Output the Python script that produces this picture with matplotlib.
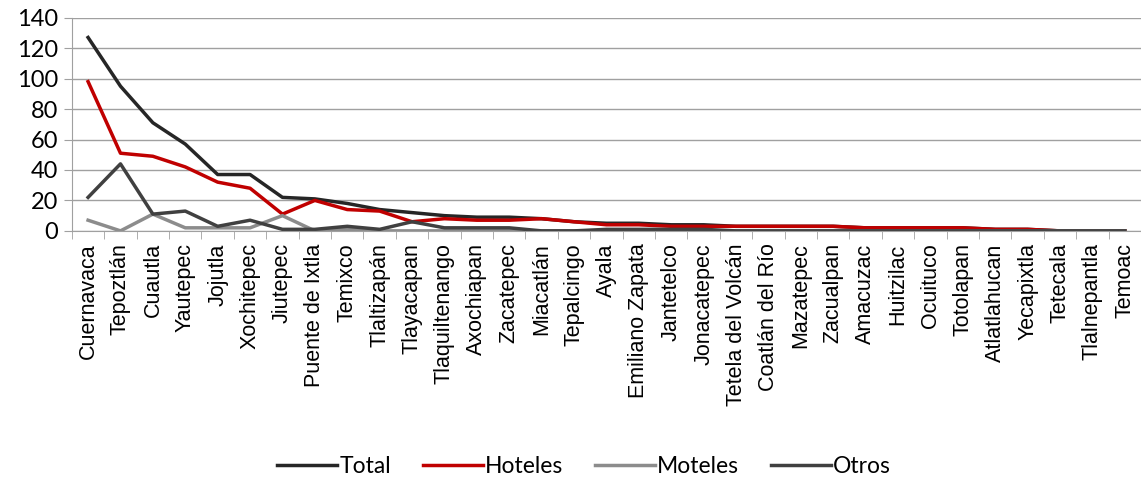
import matplotlib.pyplot as plt
import numpy as np

municipios = ["Cuernavaca", "Tepoztlán", "Cuautla", "Yautepec", "Jojutla", "Xochitepec",
              "Jiutepec", "Puente de Ixtla", "Temixco", "Tlaltizapán", "Tlayacapan",
              "Tlaquiltenango", "Axochiapan", "Zacatepec", "Miacatlán", "Tepalcingo",
              "Ayala", "Emiliano Zapata", "Jantetelco", "Jonacatepec", "Tetela del Volcán",
              "Coatlán del Río", "Mazatepec", "Zacualpan", "Amacuzac", "Huitzilac",
              "Ocuituco", "Totolapan", "Atlatlahucan", "Yecapixtla", "Tetecala",
              "Tlalnepantla", "Temoac"]

total = [127, 95, 71, 57, 37, 37, 22, 21, 18, 14, 12, 10, 9, 9, 8, 6, 5, 5, 4, 4, 3,
         3, 3, 3, 2, 2, 2, 2, 1, 1, 0, 0, 0]
hoteles = [98, 51, 49, 42, 32, 28, 11, 20, 14, 13, 6, 8, 7, 7, 8, 6, 4, 4, 3, 3, 3,
           3, 3, 3, 2, 2, 2, 2, 1, 1, 0, 0, 0]
moteles = [7, 0, 11, 2, 2, 2, 10, 0, 1, 0, 0, 0, 0, 0, 0, 0, 0, 0, 0, 0, 0,
           0, 0, 0, 0, 0, 0, 0, 0, 0, 0, 0, 0]
otros = [22, 44, 11, 13, 3, 7, 1, 1, 3, 1, 6, 2, 2, 2, 0, 0, 1, 1, 1, 1, 0,
         0, 0, 0, 0, 0, 0, 0, 0, 0, 0, 0, 0]

series = [("Total", total, "#262626"),
          ("Hoteles", hoteles, "#C00000"),
          ("Moteles", moteles, "#8C8C8C"),
          ("Otros", otros, "#404040")]

fig = plt.figure(figsize=(11.41, 4.78), dpi=100)
ax = fig.add_axes([0.063, 0.517, 0.937, 0.446])

x = np.arange(len(municipios))
for name, vals, color in series:
    ax.plot(x, vals, color=color, linewidth=2.5, label=name, solid_joinstyle="round")

ax.set_xlim(-0.5, len(municipios) - 0.5)
ax.set_ylim(0, 140)
ax.set_yticks(range(0, 141, 20))
ax.yaxis.grid(True, color="#A0A0A0", linewidth=1)
ax.set_axisbelow(True)

ax.set_xticks(x)
ax.set_xticklabels(municipios, rotation=90, fontsize=15.5, family="Liberation Sans",
                   ha="center", va="top")
ax.tick_params(axis="x", which="major", length=0, pad=9)
ax.set_xticks(np.arange(-0.5, len(municipios), 1), minor=True)
ax.tick_params(axis="x", which="minor", length=6, color="#A0A0A0", direction="out")
ax.tick_params(axis="y", length=6, color="#A0A0A0", labelsize=17, pad=4)
for lbl in ax.get_yticklabels():
    lbl.set_family("Lato")

for side in ["top", "right"]:
    ax.spines[side].set_visible(False)
ax.spines["left"].set_color("#A0A0A0")
ax.spines["bottom"].set_color("#A0A0A0")

leg = fig.legend(loc="center", bbox_to_anchor=(0.512, 0.025), ncol=4, frameon=False,
                 prop={"family": "Lato", "size": 16.5}, handlelength=2.6,
                 handletextpad=0.1, columnspacing=1.4)

fig.savefig("out.png", dpi=100)
